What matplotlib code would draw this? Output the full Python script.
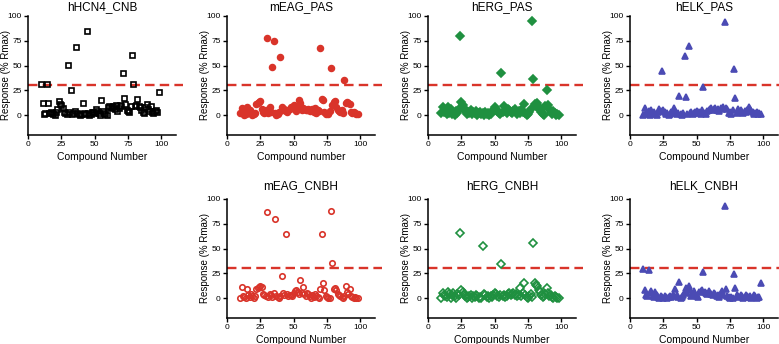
import numpy as np
import matplotlib
matplotlib.use('Agg')
import matplotlib.pyplot as plt

plt.rcParams['font.family'] = ['Liberation Sans', 'DejaVu Sans']

# compound numbers shared by every panel
compounds = np.arange(10, 99)

hcn4_cnb = [31, 12, 1, 2, 31, 12, 2, 3, 2, 1,
            0, 3, 6, 14, 11, 10, 7, 3, 2, 1,
            51, 3, 25, 1, 2, 4, 69, 2, 1, 0,
            1, 12, 2, 1, 85, 2, 0, 1, 3, 3,
            2, 6, 4, 2, 0, 15, 4, 2, 1, 0,
            8, 9, 7, 8, 9, 6, 10, 4, 7, 10,
            9, 42, 17, 11, 5, 4, 3, 9, 61, 31,
            9, 10, 16, 9, 8, 5, 3, 2, 8, 11,
            6, 4, 9, 3, 2, 4, 5, 3, 23]

meag_pas = [2, 7, 3, 0, 1, 8, 2, 5, 3, 0,
            1, 2, 11, 12, 13, 14, 6, 3, 2, 5,
            78, 2, 8, 3, 49, 75, 2, 0, 1, 3,
            59, 8, 5, 6, 4, 3, 5, 6, 8, 8,
            10, 7, 4, 6, 15, 12, 5, 7, 6, 5,
            5, 6, 4, 5, 6, 3, 7, 2, 5, 4,
            68, 16, 15, 3, 1, 2, 1, 4, 48, 10,
            13, 14, 8, 5, 4, 3, 5, 2, 35, 12,
            13, 12, 11, 3, 2, 3, 2, 1, 1]

herg_pas = [2, 8, 3, 5, 1, 8, 2, 6, 1, 3,
            0, 4, 2, 6, 80, 13, 10, 7, 4, 1,
            3, 2, 5, 1, 3, 2, 4, 0, 2, 3,
            1, 2, 0, 3, 1, 2, 0, 1, 3, 5,
            8, 6, 4, 2, 1, 42, 3, 9, 4, 2,
            6, 5, 3, 2, 4, 6, 3, 1, 4, 2,
            5, 3, 11, 2, 0, 1, 3, 6, 95, 36,
            11, 9, 12, 8, 5, 3, 1, 0, 9, 25,
            10, 6, 3, 1, 4, 2, 0, 1, 0]

helk_pas = [0, 7, 2, 1, 4, 0, 5, 2, 3, 1,
            0, 3, 6, 4, 45, 5, 3, 1, 2, 0,
            1, 3, 2, 7, 4, 1, 2, 19, 1, 0,
            2, 60, 18, 1, 70, 2, 3, 1, 2, 3,
            4, 2, 3, 1, 5, 28, 2, 1, 4, 5,
            6, 7, 5, 6, 7, 5, 6, 4, 7, 6,
            8, 94, 7, 6, 2, 3, 1, 5, 47, 17,
            2, 6, 4, 5, 3, 2, 4, 3, 5, 8,
            6, 4, 3, 1, 2, 3, 1, 2, 1]

meag_cnbh = [0, 11, 2, 1, 0, 9, 3, 1, 4, 2,
             0, 2, 9, 10, 11, 12, 11, 4, 3, 2,
             87, 1, 4, 3, 1, 5, 80, 2, 1, 0,
             2, 22, 5, 3, 65, 4, 2, 3, 3, 2,
             5, 7, 8, 6, 4, 18, 5, 11, 4, 2,
             5, 4, 2, 0, 3, 1, 4, 2, 1, 0,
             9, 65, 15, 8, 2, 1, 0, 0, 88, 35,
             9, 10, 8, 4, 3, 2, 1, 0, 2, 12,
             6, 4, 9, 2, 1, 0, 1, 0, 0]

herg_cnbh = [0, 5, 3, 2, 1, 6, 4, 0, 3, 5,
             2, 0, 4, 3, 66, 8, 6, 4, 2, 0,
             1, 2, 3, 0, 2, 1, 3, 2, 0, 1,
             0, 53, 4, 3, 1, 2, 0, 2, 1, 3,
             5, 4, 2, 1, 3, 34, 2, 3, 1, 2,
             4, 5, 3, 4, 5, 3, 4, 2, 3, 10,
             2, 5, 15, 3, 1, 0, 2, 4, 1, 56,
             15, 13, 12, 8, 6, 3, 1, 2, 4, 10,
             5, 2, 3, 1, 0, 2, 1, 0, 0]

helk_cnbh = [29, 8, 3, 2, 28, 5, 7, 2, 1, 6,
             3, 1, 0, 2, 1, 0, 2, 1, 0, 1,
             2, 1, 3, 2, 9, 3, 1, 16, 0, 1,
             3, 6, 10, 5, 12, 8, 2, 4, 7, 3,
             2, 1, 6, 7, 8, 26, 6, 5, 4, 7,
             5, 4, 3, 5, 4, 2, 3, 1, 5, 7,
             3, 93, 9, 2, 1, 0, 1, 0, 24, 10,
             3, 2, 1, 3, 2, 0, 1, 3, 2, 1,
             2, 0, 1, 3, 2, 0, 1, 1, 15]

threshold = 30

RED = '#d9342a'
GREEN = '#1f9040'
BLUE = '#4b4bb4'

# (title, values, xlabel, marker, color, filled, markersize, column, row)
panels = [
    ('hHCN4_CNB', hcn4_cnb, 'Compound Number', 's', 'black', False, 3.6, 0, 0),
    ('mEAG_PAS', meag_pas, 'Compound number', 'o', RED, True, 4.2, 1, 0),
    ('hERG_PAS', herg_pas, 'Compound Number', 'D', GREEN, True, 3.8, 2, 0),
    ('hELK_PAS', helk_pas, 'Compound Number', '^', BLUE, True, 5.0, 3, 0),
    ('mEAG_CNBH', meag_cnbh, 'Compound Number', 'o', RED, False, 3.9, 1, 1),
    ('hERG_CNBH', herg_cnbh, 'Compounds Number', 'D', GREEN, False, 3.6, 2, 1),
    ('hELK_CNBH', helk_cnbh, 'Compound Number', '^', BLUE, True, 5.0, 3, 1),
]

lefts = [0.036, 0.2914, 0.5494, 0.8087]
bottoms = [0.6076, 0.0756]
width = 0.19
height = 0.346

fig = plt.figure(figsize=(7.79, 3.44), dpi=100)

for title, vals, xlab, mk, col, filled, ms, c, r in panels:
    ax = fig.add_axes([lefts[c], bottoms[r], width, height])
    ax.plot(compounds, vals, linestyle='none', marker=mk, ms=ms,
            markeredgecolor=col, markerfacecolor=col if filled else 'none',
            markeredgewidth=1.2, clip_on=False, zorder=3)
    ax.plot([0, 116], [threshold, threshold], color=RED, lw=1.7,
            dashes=(4, 2.2), clip_on=False, zorder=2)
    ax.set_xlim(0, 111)
    ax.set_ylim(-20, 100)
    ax.set_xticks([0, 25, 50, 75, 100])
    ax.set_yticks([0, 25, 50, 75, 100])
    for s in ['top', 'right']:
        ax.spines[s].set_visible(False)
    for s in ['left', 'bottom']:
        ax.spines[s].set_linewidth(1.1)
    ax.tick_params(direction='out', length=3, width=1.0, labelsize=6, pad=1.5)
    ax.set_title(title, fontsize=8.5, pad=4 if r == 0 else 7)
    ax.set_xlabel(xlab, fontsize=7.5, labelpad=3)
    ax.set_ylabel('Response (% Rmax)', fontsize=7)
    ax.yaxis.set_label_coords(-0.112, 0.5)

fig.savefig('out.png', dpi=100)
